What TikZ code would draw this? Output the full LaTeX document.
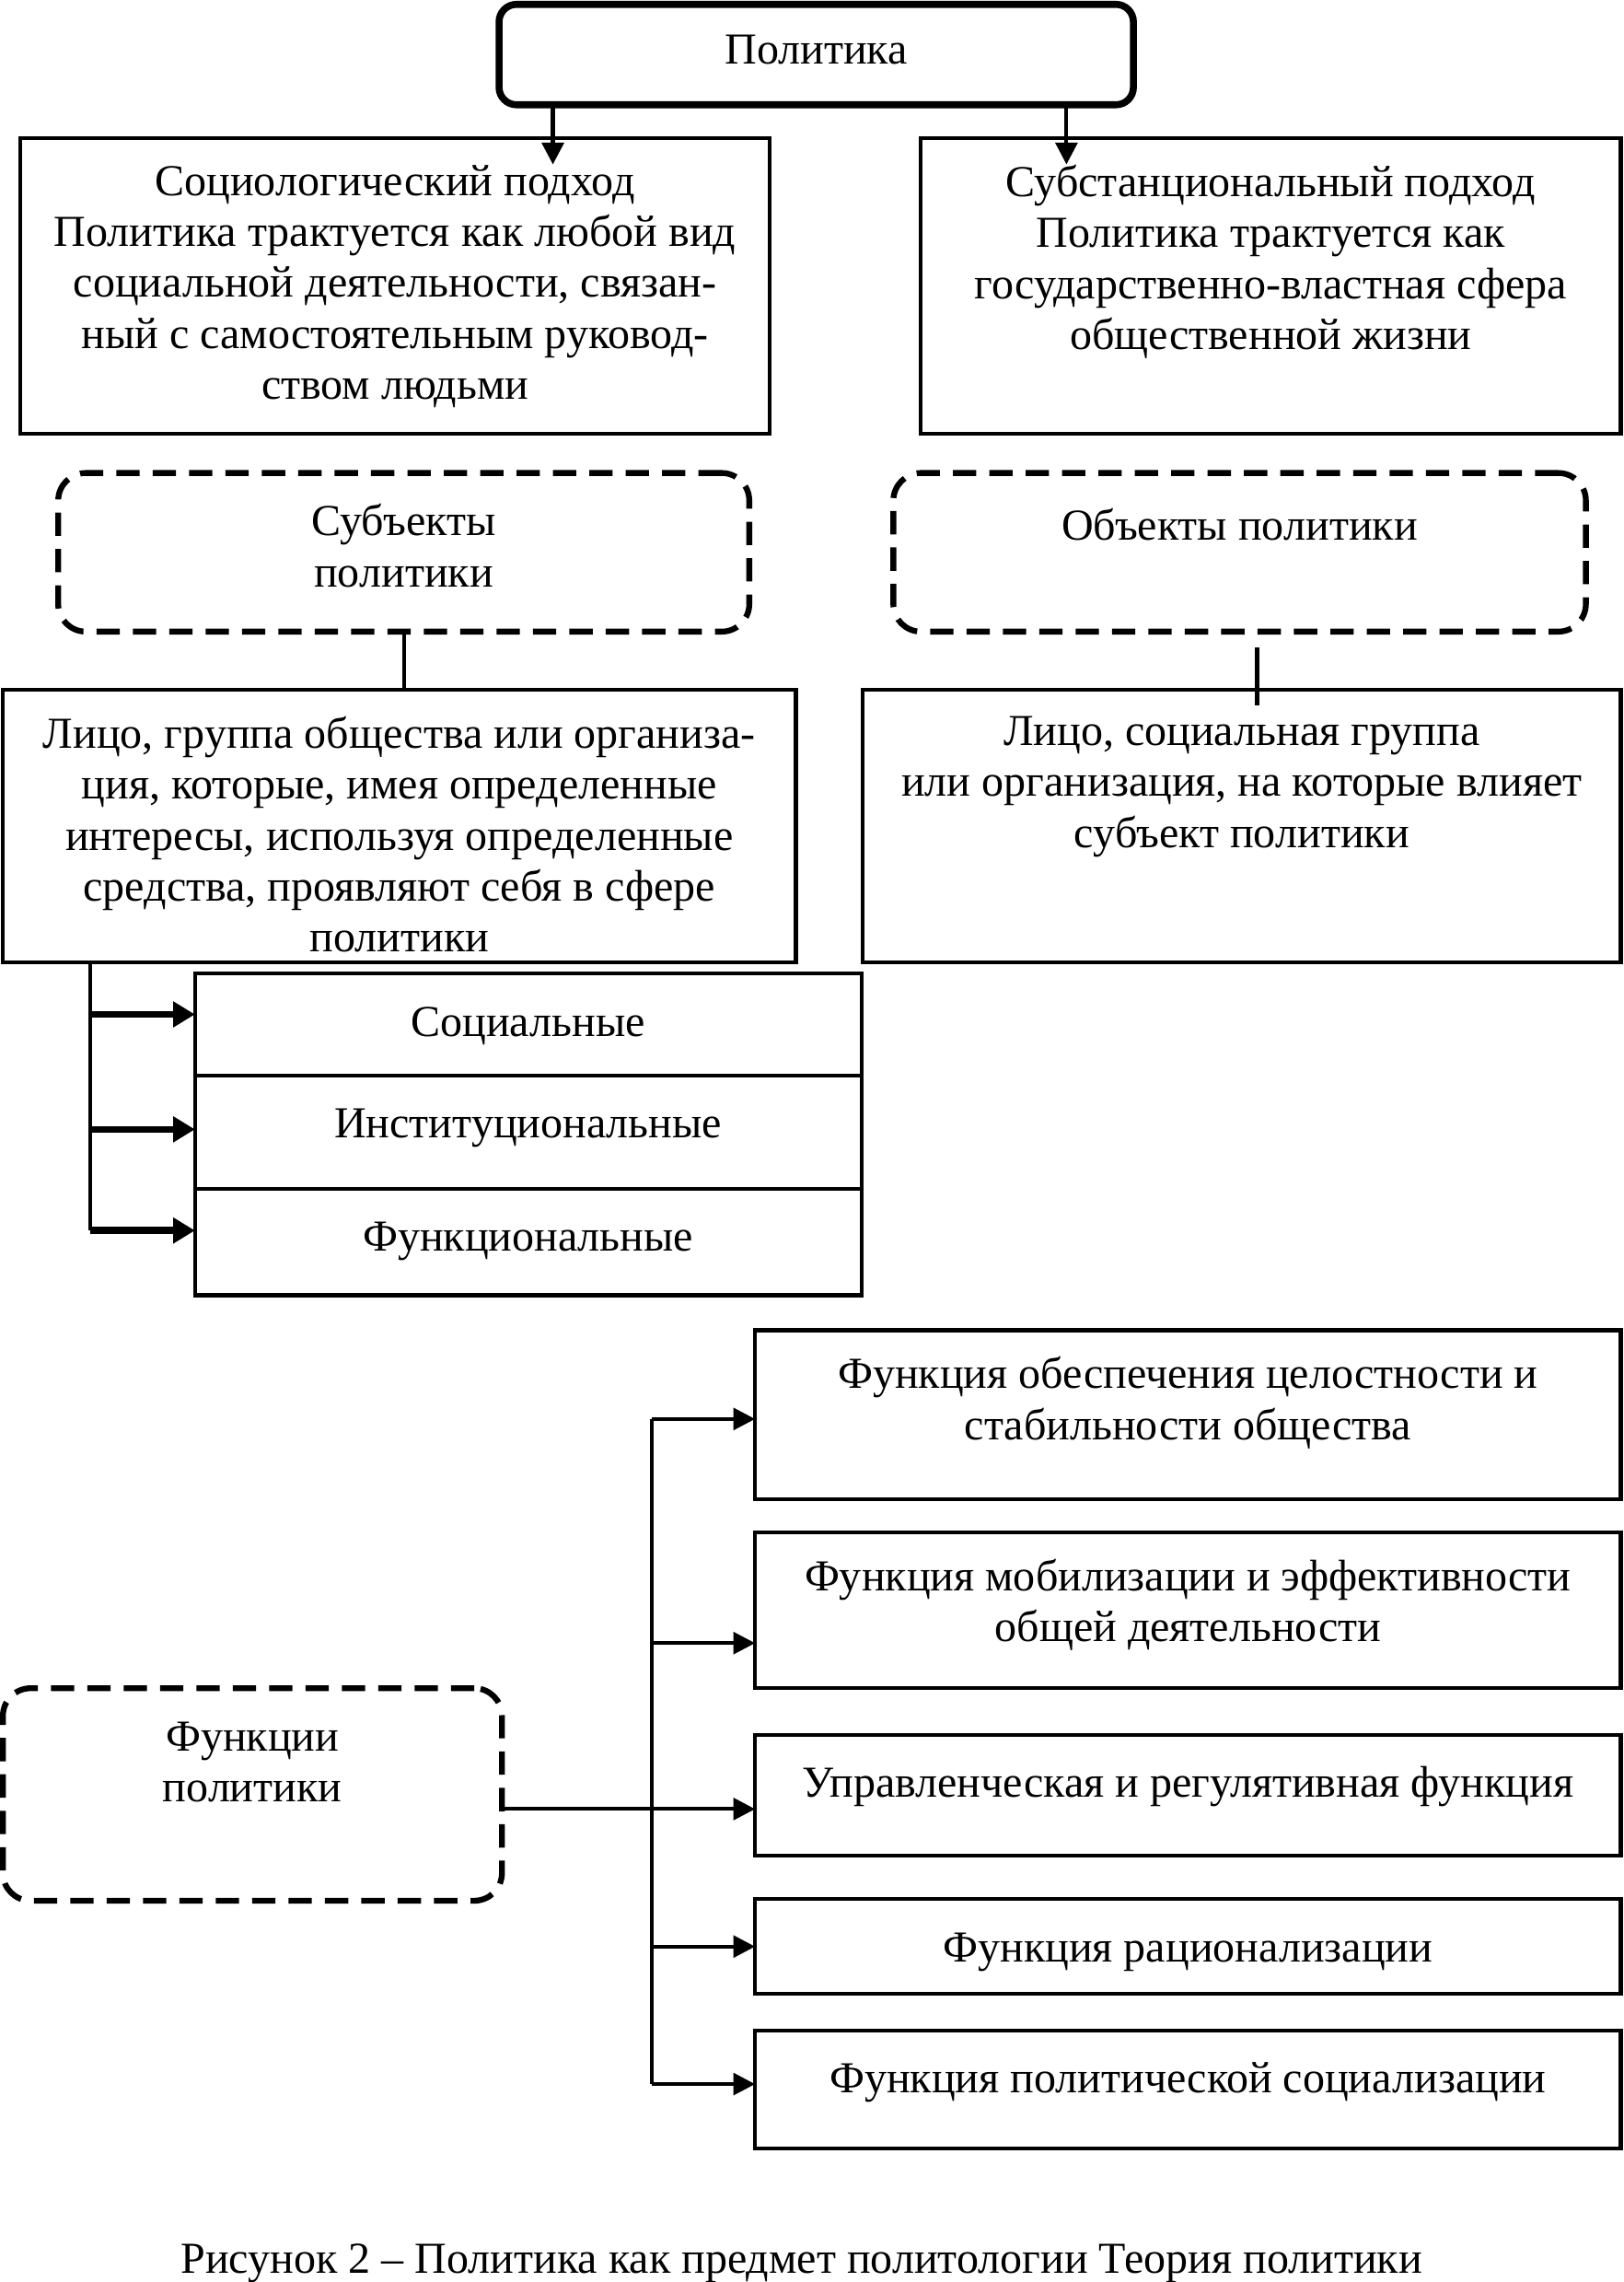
\documentclass[tikz,border=0pt]{standalone}
\usepackage{fontspec}
\setmainfont{Liberation Serif}
\usetikzlibrary{positioning,arrows.meta}

\begin{document}
\begin{tikzpicture}[
	x=0.5pt, y=-0.5pt,
	font=\fontsize{15.2}{17.5}\selectfont,
	wh/.style 2 args={minimum width=#1, minimum height=#2},
	box/.style={draw, line width=1.3pt, anchor=north west, inner sep=0pt, outer sep=0pt},
	dbox/.style={box, line width=2pt, dash pattern=on 8pt off 4.5pt, rounded corners=9.5pt},
	lbl/.style={anchor=north, align=center, inner sep=0pt, yshift=-9pt, execute at begin node=\strut},
	link/.style={line width=1.3pt},
	bus/.style={line width=1.5pt},
	arr/.style={line width=1.3pt, -{Triangle[length=7.5pt,width=7.5pt]}},
	fat/.style={line width=2.4pt, -{Triangle[length=7.5pt,width=8.5pt]}},
	]
	\useasboundingbox (0,0) rectangle (1116,1568);
	% top
	\node [box, line width=2.4pt, rounded corners=6pt, wh={218pt}{34.5pt},
		label={[lbl,yshift=1pt]north:{Политика}}] (pol) at (343,3) {};
	\node [box, wh={257.5pt}{101.5pt}, label={[lbl]north:{Социологический подход\\Политика трактуется как любой вид\\социальной деятельности, связан-\\ный с самостоятельным руковод-\\ством людьми}}] (soc) at (14,95) {};
	\node [box, wh={240.5pt}{101.5pt}, label={[lbl]north:{Субстанциональный подход\\Политика трактуется как\\государственно-властная сфера\\общественной жизни}}] (sub) at (633,95) {};
	\draw[arr, shorten >=-9pt] ([xshift=-90.5pt]pol.south) -- ([xshift=-90.5pt]pol.south |- soc.north);
	\draw[arr, shorten >=-9pt] ([xshift=86pt]pol.south) -- ([xshift=86pt]pol.south |- sub.north);
	% subjects and objects
	\node [dbox, wh={237.5pt}{54.5pt}, label={[lbl,yshift=-1.5pt]north:{Субъекты\\политики}}] (subj) at (40,325) {};
	\node [dbox, wh={238pt}{54.5pt}, label={[lbl,yshift=-1.5pt]north:{Объекты политики}}] (obj) at (614,325) {};
	\node [box, wh={272.5pt}{93.5pt}, label={[lbl]north:{Лицо, группа общества или организа-\\ция, которые, имея определенные\\интересы, используя определенные\\средства, проявляют себя в сфере\\политики}}] (subjdef) at (2,474) {};
	\node [box, wh={260.5pt}{93.5pt}, label={[lbl]north:{Лицо, социальная группа\\или организация, на которые влияет\\субъект политики}}] (objdef) at (593,474) {};
	\draw[link] (subj.south) -- (subj.south |- subjdef.north);
	\draw[link] ([xshift=6pt,yshift=-5.5pt]obj.south) -- ([xshift=6pt,yshift=-5.5pt]obj.south |- objdef.north);
	% types of subjects
	\node [box, wh={229pt}{35pt}, label={[lbl]north:{Социальные}}] (typ1) at (134,669) {};
	\node [box, wh={229pt}{39pt}, below=0pt of typ1, label={[lbl]north:{Институциональные}}] (typ2) {};
	\node [box, wh={229pt}{36.5pt}, below=0pt of typ2, label={[lbl]north:{Функциональные}}] (typ3) {};
	\coordinate (tb) at ([xshift=30pt]subjdef.south west);
	\draw[bus] (tb) -- ([yshift=4pt]tb |- typ3.west);
	\foreach \t/\dy in {typ1/3.5, typ2/1, typ3/4}
		\draw[fat] ([yshift=\dy pt]tb |- \t.west) -- ([yshift=\dy pt]\t.west);
	% functions
	\node [box, wh={297.5pt}{58pt}, label={[lbl]north:{Функция обеспечения целостности и\\стабильности общества}}] (f1) at (519,914) {};
	\node [box, wh={297.5pt}{53.5pt}, label={[lbl]north:{Функция мобилизации и эффективности\\общей деятельности}}] (f2) at (519,1053) {};
	\node [box, wh={297.5pt}{41.5pt}, label={[lbl]north:{Управленческая и регулятивная функция}}] (f3) at (519,1192) {};
	\node [box, wh={297.5pt}{32.5pt}, label={[lbl]north:{Функция рационализации}}] (f4) at (519,1305) {};
	\node [box, wh={297.5pt}{40.5pt}, label={[lbl]north:{Функция политической социализации}}] (f5) at (519,1395) {};
	\node [dbox, wh={171.5pt}{73pt}, label={[lbl,yshift=-2.5pt]north:{Функции\\политики}}] (fun) at (2,1160) {};
	\coordinate (fb) at (448,0);
	\draw[bus] ([yshift=-1.5pt]fb |- f1.west) -- ([yshift=1.75pt]fb |- f5.west);
	\foreach \f/\dy in {f1/-1.5, f2/-11.25, f4/0, f5/1.75}
		\draw[arr] ([yshift=\dy pt]fb |- \f.west) -- ([yshift=\dy pt]\f.west);
	\draw[arr] ([yshift=-5pt]fun.east) -- ([yshift=-5pt]fun.east -| f3.west);
	% caption
	\node (cap) at (551,1555) {Рисунок 2 – Политика как предмет политологии Теория политики};
\end{tikzpicture}
\end{document}
